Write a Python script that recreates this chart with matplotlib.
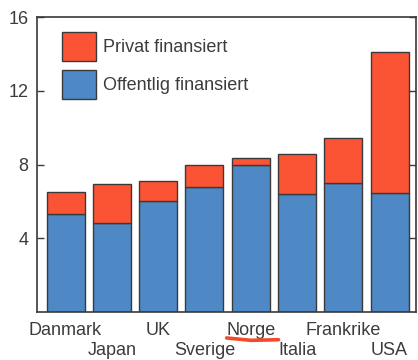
import matplotlib
matplotlib.use("Agg")
import matplotlib.pyplot as plt
from matplotlib.patches import Patch
from matplotlib.lines import Line2D
import matplotlib.transforms as mtransforms

plt.rcParams["font.family"] = ["Liberation Sans", "DejaVu Sans"]

# Health expenditure share, split by financing source
countries = ["Danmark", "Japan", "UK", "Sverige", "Norge", "Italia", "Frankrike", "USA"]
public = [5.3, 4.85, 6.0, 6.8, 7.95, 6.4, 7.0, 6.45]
private = [1.2, 2.1, 1.1, 1.15, 0.4, 2.15, 2.45, 7.65]
yticks = [4, 8, 12, 16]
legend_labels = ["Privat finansiert", "Offentlig finansiert"]
highlight = "Norge"

BLUE = "#4f89c5"
RED = "#fb5434"
EDGE = "#3a3a3a"
TEXT = "#3c3c3c"

fig = plt.figure(figsize=(4.18, 3.6), dpi=100)
ax = fig.add_axes([37 / 418, 48 / 360, (416 - 37) / 418, (312 - 17) / 360])

x = list(range(len(countries)))
ax.bar(x, public, width=0.82, color=BLUE, edgecolor=EDGE, linewidth=1.0)
ax.bar(x, private, width=0.82, bottom=public, color=RED, edgecolor=EDGE, linewidth=1.0)

ax.set_xlim(-0.616, 7.57)
ax.set_ylim(0, 16)

ax.set_yticks(yticks)
ax.set_yticklabels([str(v) for v in yticks])
ax.tick_params(axis="y", direction="in", length=5, width=1.0, color=EDGE,
               labelsize=13, labelcolor=TEXT, pad=6, right=True)

# Country names staggered over two rows
ax.set_xticks(x[0::2])
ax.set_xticklabels(countries[0::2])
ax.set_xticks(x[1::2], minor=True)
ax.set_xticklabels(countries[1::2], minor=True)
ax.tick_params(axis="x", which="major", length=0, labelsize=13, labelcolor=TEXT, pad=7)
ax.tick_params(axis="x", which="minor", length=0, labelsize=13, labelcolor=TEXT, pad=21.5)

for side in ["left", "right", "top", "bottom"]:
    ax.spines[side].set_color(EDGE)
    ax.spines[side].set_linewidth(1.2)

# Underline the highlighted country
hi = countries.index(highlight)
trans = mtransforms.blended_transform_factory(ax.transData, ax.transAxes)
ax.add_line(Line2D([hi - 0.52, hi, hi + 0.6], [-0.088, -0.096, -0.094],
                   transform=trans, color="#f24a2a", linewidth=2.6,
                   solid_capstyle="round", clip_on=False))

handles = [Patch(facecolor=RED, edgecolor=EDGE, linewidth=1.0),
           Patch(facecolor=BLUE, edgecolor=EDGE, linewidth=1.0)]
leg = ax.legend(handles, legend_labels, loc="upper left",
                bbox_to_anchor=(62 / 418, 1 - 32 / 360), bbox_transform=fig.transFigure,
                frameon=False, fontsize=13, handlelength=1.9, handleheight=2.1,
                handletextpad=0.35, labelspacing=0.5, borderpad=0, borderaxespad=0)
for t in leg.get_texts():
    t.set_color(TEXT)

fig.savefig("out.png", dpi=100)
